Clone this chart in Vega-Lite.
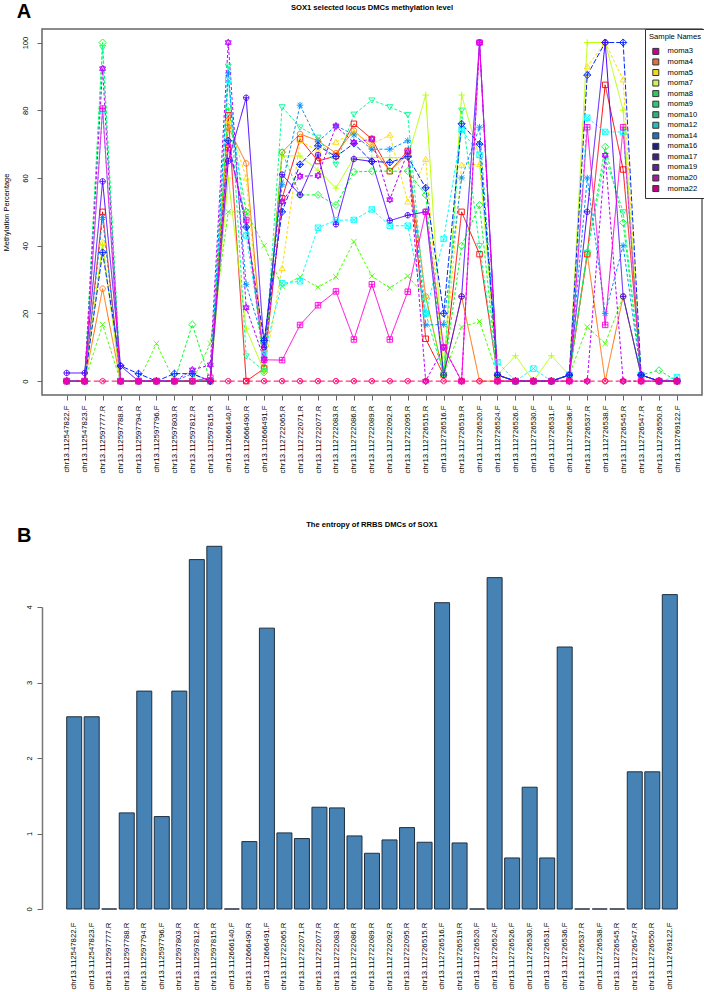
{"$schema":"https://vega.github.io/schema/vega-lite/v6.json","background":"white","padding":{"left":1,"top":0,"right":0,"bottom":0},"bounds":"flush","spacing":212,"config":{"font":"Liberation Sans","view":{"stroke":null}},"vconcat":[{"width":660,"height":366,"title":{"text":"SOX1 selected locus DMCs methylation level","fontSize":7.6,"fontWeight":"bold","color":"black","offset":-10.5,"anchor":"middle"},"view":{"stroke":"#666","strokeWidth":1.5},"data":{"values":[
{"site":"chr13.112547822.F","sample":"moma3","pct":0},{"site":"chr13.112547823.F","sample":"moma3","pct":0},{"site":"chr13.112597777.R","sample":"moma3","pct":50},{"site":"chr13.112597788.R","sample":"moma3","pct":0},{"site":"chr13.112597794.R","sample":"moma3","pct":0},{"site":"chr13.112597796.F","sample":"moma3","pct":0},{"site":"chr13.112597803.R","sample":"moma3","pct":0},{"site":"chr13.112597812.R","sample":"moma3","pct":0},{"site":"chr13.112597815.R","sample":"moma3","pct":0},{"site":"chr13.112666140.F","sample":"moma3","pct":78.5},{"site":"chr13.112666490.R","sample":"moma3","pct":0},{"site":"chr13.112666491.F","sample":"moma3","pct":3.7},{"site":"chr13.112722065.R","sample":"moma3","pct":54},{"site":"chr13.112722071.R","sample":"moma3","pct":71.5},{"site":"chr13.112722077.R","sample":"moma3","pct":65},{"site":"chr13.112722083.R","sample":"moma3","pct":66.5},{"site":"chr13.112722086.R","sample":"moma3","pct":76},{"site":"chr13.112722089.R","sample":"moma3","pct":71.5},{"site":"chr13.112722092.R","sample":"moma3","pct":62},{"site":"chr13.112722095.R","sample":"moma3","pct":68},{"site":"chr13.112726515.R","sample":"moma3","pct":12.5},{"site":"chr13.112726516.F","sample":"moma3","pct":1.8},{"site":"chr13.112726519.R","sample":"moma3","pct":50},{"site":"chr13.112726520.F","sample":"moma3","pct":37.5},{"site":"chr13.112726524.F","sample":"moma3","pct":1.8},{"site":"chr13.112726526.F","sample":"moma3","pct":0},{"site":"chr13.112726530.F","sample":"moma3","pct":0},{"site":"chr13.112726531.F","sample":"moma3","pct":0},{"site":"chr13.112726536.F","sample":"moma3","pct":1.8},{"site":"chr13.112726537.R","sample":"moma3","pct":37.5},{"site":"chr13.112726538.F","sample":"moma3","pct":87.5},{"site":"chr13.112726545.R","sample":"moma3","pct":62.5},{"site":"chr13.112726547.R","sample":"moma3","pct":1.8},{"site":"chr13.112726550.R","sample":"moma3","pct":0},{"site":"chr13.112769122.F","sample":"moma3","pct":0},
{"site":"chr13.112547822.F","sample":"moma4","pct":0},{"site":"chr13.112547823.F","sample":"moma4","pct":0},{"site":"chr13.112597777.R","sample":"moma4","pct":27.3},{"site":"chr13.112597788.R","sample":"moma4","pct":0},{"site":"chr13.112597794.R","sample":"moma4","pct":0},{"site":"chr13.112597796.F","sample":"moma4","pct":0},{"site":"chr13.112597803.R","sample":"moma4","pct":0},{"site":"chr13.112597812.R","sample":"moma4","pct":0},{"site":"chr13.112597815.R","sample":"moma4","pct":0},{"site":"chr13.112666140.F","sample":"moma4","pct":75},{"site":"chr13.112666490.R","sample":"moma4","pct":64.3},{"site":"chr13.112666491.F","sample":"moma4","pct":4.3},{"site":"chr13.112722065.R","sample":"moma4","pct":67.6},{"site":"chr13.112722071.R","sample":"moma4","pct":73},{"site":"chr13.112722077.R","sample":"moma4","pct":71},{"site":"chr13.112722083.R","sample":"moma4","pct":67.3},{"site":"chr13.112722086.R","sample":"moma4","pct":74},{"site":"chr13.112722089.R","sample":"moma4","pct":69},{"site":"chr13.112722092.R","sample":"moma4","pct":62},{"site":"chr13.112722095.R","sample":"moma4","pct":67},{"site":"chr13.112726515.R","sample":"moma4","pct":25},{"site":"chr13.112726516.F","sample":"moma4","pct":1.8},{"site":"chr13.112726519.R","sample":"moma4","pct":25},{"site":"chr13.112726520.F","sample":"moma4","pct":0},{"site":"chr13.112726524.F","sample":"moma4","pct":0},{"site":"chr13.112726526.F","sample":"moma4","pct":0},{"site":"chr13.112726530.F","sample":"moma4","pct":0},{"site":"chr13.112726531.F","sample":"moma4","pct":0},{"site":"chr13.112726536.F","sample":"moma4","pct":1.8},{"site":"chr13.112726537.R","sample":"moma4","pct":37.5},{"site":"chr13.112726538.F","sample":"moma4","pct":0},{"site":"chr13.112726545.R","sample":"moma4","pct":25},{"site":"chr13.112726547.R","sample":"moma4","pct":1.8},{"site":"chr13.112726550.R","sample":"moma4","pct":0},{"site":"chr13.112769122.F","sample":"moma4","pct":0},
{"site":"chr13.112547822.F","sample":"moma5","pct":0},{"site":"chr13.112547823.F","sample":"moma5","pct":0},{"site":"chr13.112597777.R","sample":"moma5","pct":41},{"site":"chr13.112597788.R","sample":"moma5","pct":0},{"site":"chr13.112597794.R","sample":"moma5","pct":0},{"site":"chr13.112597796.F","sample":"moma5","pct":0},{"site":"chr13.112597803.R","sample":"moma5","pct":0},{"site":"chr13.112597812.R","sample":"moma5","pct":0},{"site":"chr13.112597815.R","sample":"moma5","pct":0},{"site":"chr13.112666140.F","sample":"moma5","pct":77},{"site":"chr13.112666490.R","sample":"moma5","pct":60},{"site":"chr13.112666491.F","sample":"moma5","pct":3.3},{"site":"chr13.112722065.R","sample":"moma5","pct":33.3},{"site":"chr13.112722071.R","sample":"moma5","pct":71},{"site":"chr13.112722077.R","sample":"moma5","pct":68},{"site":"chr13.112722083.R","sample":"moma5","pct":70.6},{"site":"chr13.112722086.R","sample":"moma5","pct":73.5},{"site":"chr13.112722089.R","sample":"moma5","pct":70},{"site":"chr13.112722092.R","sample":"moma5","pct":72.7},{"site":"chr13.112722095.R","sample":"moma5","pct":53},{"site":"chr13.112726515.R","sample":"moma5","pct":65.5},{"site":"chr13.112726516.F","sample":"moma5","pct":1.8},{"site":"chr13.112726519.R","sample":"moma5","pct":63.8},{"site":"chr13.112726520.F","sample":"moma5","pct":64},{"site":"chr13.112726524.F","sample":"moma5","pct":1.8},{"site":"chr13.112726526.F","sample":"moma5","pct":0},{"site":"chr13.112726530.F","sample":"moma5","pct":0},{"site":"chr13.112726531.F","sample":"moma5","pct":0},{"site":"chr13.112726536.F","sample":"moma5","pct":1.8},{"site":"chr13.112726537.R","sample":"moma5","pct":92.9},{"site":"chr13.112726538.F","sample":"moma5","pct":100},{"site":"chr13.112726545.R","sample":"moma5","pct":89},{"site":"chr13.112726547.R","sample":"moma5","pct":1.8},{"site":"chr13.112726550.R","sample":"moma5","pct":0},{"site":"chr13.112769122.F","sample":"moma5","pct":0},
{"site":"chr13.112547822.F","sample":"moma7","pct":0},{"site":"chr13.112547823.F","sample":"moma7","pct":0},{"site":"chr13.112597777.R","sample":"moma7","pct":40},{"site":"chr13.112597788.R","sample":"moma7","pct":0},{"site":"chr13.112597794.R","sample":"moma7","pct":0},{"site":"chr13.112597796.F","sample":"moma7","pct":0},{"site":"chr13.112597803.R","sample":"moma7","pct":0},{"site":"chr13.112597812.R","sample":"moma7","pct":0},{"site":"chr13.112597815.R","sample":"moma7","pct":0},{"site":"chr13.112666140.F","sample":"moma7","pct":60},{"site":"chr13.112666490.R","sample":"moma7","pct":15.4},{"site":"chr13.112666491.F","sample":"moma7","pct":3},{"site":"chr13.112722065.R","sample":"moma7","pct":66.5},{"site":"chr13.112722071.R","sample":"moma7","pct":66.5},{"site":"chr13.112722077.R","sample":"moma7","pct":62.3},{"site":"chr13.112722083.R","sample":"moma7","pct":57},{"site":"chr13.112722086.R","sample":"moma7","pct":66},{"site":"chr13.112722089.R","sample":"moma7","pct":66},{"site":"chr13.112722092.R","sample":"moma7","pct":66},{"site":"chr13.112722095.R","sample":"moma7","pct":66},{"site":"chr13.112726515.R","sample":"moma7","pct":84.5},{"site":"chr13.112726516.F","sample":"moma7","pct":1.8},{"site":"chr13.112726519.R","sample":"moma7","pct":84.5},{"site":"chr13.112726520.F","sample":"moma7","pct":66},{"site":"chr13.112726524.F","sample":"moma7","pct":1.8},{"site":"chr13.112726526.F","sample":"moma7","pct":7.5},{"site":"chr13.112726530.F","sample":"moma7","pct":0},{"site":"chr13.112726531.F","sample":"moma7","pct":7.5},{"site":"chr13.112726536.F","sample":"moma7","pct":1.8},{"site":"chr13.112726537.R","sample":"moma7","pct":100},{"site":"chr13.112726538.F","sample":"moma7","pct":100},{"site":"chr13.112726545.R","sample":"moma7","pct":80},{"site":"chr13.112726547.R","sample":"moma7","pct":1.8},{"site":"chr13.112726550.R","sample":"moma7","pct":0},{"site":"chr13.112769122.F","sample":"moma7","pct":0},
{"site":"chr13.112547822.F","sample":"moma8","pct":0},{"site":"chr13.112547823.F","sample":"moma8","pct":0},{"site":"chr13.112597777.R","sample":"moma8","pct":16.7},{"site":"chr13.112597788.R","sample":"moma8","pct":0},{"site":"chr13.112597794.R","sample":"moma8","pct":0},{"site":"chr13.112597796.F","sample":"moma8","pct":11.1},{"site":"chr13.112597803.R","sample":"moma8","pct":0},{"site":"chr13.112597812.R","sample":"moma8","pct":0},{"site":"chr13.112597815.R","sample":"moma8","pct":11.1},{"site":"chr13.112666140.F","sample":"moma8","pct":50},{"site":"chr13.112666490.R","sample":"moma8","pct":50},{"site":"chr13.112666491.F","sample":"moma8","pct":40},{"site":"chr13.112722065.R","sample":"moma8","pct":28},{"site":"chr13.112722071.R","sample":"moma8","pct":30.8},{"site":"chr13.112722077.R","sample":"moma8","pct":27.7},{"site":"chr13.112722083.R","sample":"moma8","pct":30.8},{"site":"chr13.112722086.R","sample":"moma8","pct":41.2},{"site":"chr13.112722089.R","sample":"moma8","pct":31},{"site":"chr13.112722092.R","sample":"moma8","pct":27.5},{"site":"chr13.112722095.R","sample":"moma8","pct":31},{"site":"chr13.112726515.R","sample":"moma8","pct":25},{"site":"chr13.112726516.F","sample":"moma8","pct":1.8},{"site":"chr13.112726519.R","sample":"moma8","pct":16},{"site":"chr13.112726520.F","sample":"moma8","pct":17.6},{"site":"chr13.112726524.F","sample":"moma8","pct":1.8},{"site":"chr13.112726526.F","sample":"moma8","pct":0},{"site":"chr13.112726530.F","sample":"moma8","pct":0},{"site":"chr13.112726531.F","sample":"moma8","pct":0},{"site":"chr13.112726536.F","sample":"moma8","pct":1.8},{"site":"chr13.112726537.R","sample":"moma8","pct":16},{"site":"chr13.112726538.F","sample":"moma8","pct":11.1},{"site":"chr13.112726545.R","sample":"moma8","pct":25},{"site":"chr13.112726547.R","sample":"moma8","pct":1.8},{"site":"chr13.112726550.R","sample":"moma8","pct":0},{"site":"chr13.112769122.F","sample":"moma8","pct":0},
{"site":"chr13.112547822.F","sample":"moma9","pct":0},{"site":"chr13.112547823.F","sample":"moma9","pct":0},{"site":"chr13.112597777.R","sample":"moma9","pct":100},{"site":"chr13.112597788.R","sample":"moma9","pct":0},{"site":"chr13.112597794.R","sample":"moma9","pct":0},{"site":"chr13.112597796.F","sample":"moma9","pct":0},{"site":"chr13.112597803.R","sample":"moma9","pct":0},{"site":"chr13.112597812.R","sample":"moma9","pct":16.7},{"site":"chr13.112597815.R","sample":"moma9","pct":0},{"site":"chr13.112666140.F","sample":"moma9","pct":81},{"site":"chr13.112666490.R","sample":"moma9","pct":50},{"site":"chr13.112666491.F","sample":"moma9","pct":2.6},{"site":"chr13.112722065.R","sample":"moma9","pct":67.6},{"site":"chr13.112722071.R","sample":"moma9","pct":55},{"site":"chr13.112722077.R","sample":"moma9","pct":55},{"site":"chr13.112722083.R","sample":"moma9","pct":52},{"site":"chr13.112722086.R","sample":"moma9","pct":61.8},{"site":"chr13.112722089.R","sample":"moma9","pct":62},{"site":"chr13.112722092.R","sample":"moma9","pct":62},{"site":"chr13.112722095.R","sample":"moma9","pct":62},{"site":"chr13.112726515.R","sample":"moma9","pct":55},{"site":"chr13.112726516.F","sample":"moma9","pct":1.8},{"site":"chr13.112726519.R","sample":"moma9","pct":40},{"site":"chr13.112726520.F","sample":"moma9","pct":52},{"site":"chr13.112726524.F","sample":"moma9","pct":1.8},{"site":"chr13.112726526.F","sample":"moma9","pct":0},{"site":"chr13.112726530.F","sample":"moma9","pct":0},{"site":"chr13.112726531.F","sample":"moma9","pct":0},{"site":"chr13.112726536.F","sample":"moma9","pct":1.8},{"site":"chr13.112726537.R","sample":"moma9","pct":38},{"site":"chr13.112726538.F","sample":"moma9","pct":69.2},{"site":"chr13.112726545.R","sample":"moma9","pct":46.8},{"site":"chr13.112726547.R","sample":"moma9","pct":1.8},{"site":"chr13.112726550.R","sample":"moma9","pct":3.2},{"site":"chr13.112769122.F","sample":"moma9","pct":0},
{"site":"chr13.112547822.F","sample":"moma10","pct":0},{"site":"chr13.112547823.F","sample":"moma10","pct":0},{"site":"chr13.112597777.R","sample":"moma10","pct":98.5},{"site":"chr13.112597788.R","sample":"moma10","pct":0},{"site":"chr13.112597794.R","sample":"moma10","pct":0},{"site":"chr13.112597796.F","sample":"moma10","pct":0},{"site":"chr13.112597803.R","sample":"moma10","pct":0},{"site":"chr13.112597812.R","sample":"moma10","pct":0},{"site":"chr13.112597815.R","sample":"moma10","pct":0},{"site":"chr13.112666140.F","sample":"moma10","pct":93},{"site":"chr13.112666490.R","sample":"moma10","pct":7.4},{"site":"chr13.112666491.F","sample":"moma10","pct":3},{"site":"chr13.112722065.R","sample":"moma10","pct":81},{"site":"chr13.112722071.R","sample":"moma10","pct":75},{"site":"chr13.112722077.R","sample":"moma10","pct":72},{"site":"chr13.112722083.R","sample":"moma10","pct":64},{"site":"chr13.112722086.R","sample":"moma10","pct":78.8},{"site":"chr13.112722089.R","sample":"moma10","pct":83},{"site":"chr13.112722092.R","sample":"moma10","pct":81},{"site":"chr13.112722095.R","sample":"moma10","pct":78.7},{"site":"chr13.112726515.R","sample":"moma10","pct":20},{"site":"chr13.112726516.F","sample":"moma10","pct":1.8},{"site":"chr13.112726519.R","sample":"moma10","pct":80},{"site":"chr13.112726520.F","sample":"moma10","pct":40},{"site":"chr13.112726524.F","sample":"moma10","pct":1.8},{"site":"chr13.112726526.F","sample":"moma10","pct":0},{"site":"chr13.112726530.F","sample":"moma10","pct":0},{"site":"chr13.112726531.F","sample":"moma10","pct":0},{"site":"chr13.112726536.F","sample":"moma10","pct":1.8},{"site":"chr13.112726537.R","sample":"moma10","pct":38},{"site":"chr13.112726538.F","sample":"moma10","pct":66},{"site":"chr13.112726545.R","sample":"moma10","pct":50},{"site":"chr13.112726547.R","sample":"moma10","pct":1.8},{"site":"chr13.112726550.R","sample":"moma10","pct":0},{"site":"chr13.112769122.F","sample":"moma10","pct":0},
{"site":"chr13.112547822.F","sample":"moma12","pct":0},{"site":"chr13.112547823.F","sample":"moma12","pct":0},{"site":"chr13.112597777.R","sample":"moma12","pct":80},{"site":"chr13.112597788.R","sample":"moma12","pct":0},{"site":"chr13.112597794.R","sample":"moma12","pct":0},{"site":"chr13.112597796.F","sample":"moma12","pct":0},{"site":"chr13.112597803.R","sample":"moma12","pct":0},{"site":"chr13.112597812.R","sample":"moma12","pct":0},{"site":"chr13.112597815.R","sample":"moma12","pct":0},{"site":"chr13.112666140.F","sample":"moma12","pct":89},{"site":"chr13.112666490.R","sample":"moma12","pct":43},{"site":"chr13.112666491.F","sample":"moma12","pct":8},{"site":"chr13.112722065.R","sample":"moma12","pct":28.9},{"site":"chr13.112722071.R","sample":"moma12","pct":29.5},{"site":"chr13.112722077.R","sample":"moma12","pct":45.3},{"site":"chr13.112722083.R","sample":"moma12","pct":47.5},{"site":"chr13.112722086.R","sample":"moma12","pct":47.6},{"site":"chr13.112722089.R","sample":"moma12","pct":50.7},{"site":"chr13.112722092.R","sample":"moma12","pct":45.9},{"site":"chr13.112722095.R","sample":"moma12","pct":45.9},{"site":"chr13.112726515.R","sample":"moma12","pct":20},{"site":"chr13.112726516.F","sample":"moma12","pct":42},{"site":"chr13.112726519.R","sample":"moma12","pct":74.3},{"site":"chr13.112726520.F","sample":"moma12","pct":66.8},{"site":"chr13.112726524.F","sample":"moma12","pct":5.6},{"site":"chr13.112726526.F","sample":"moma12","pct":0},{"site":"chr13.112726530.F","sample":"moma12","pct":3.7},{"site":"chr13.112726531.F","sample":"moma12","pct":0},{"site":"chr13.112726536.F","sample":"moma12","pct":1.8},{"site":"chr13.112726537.R","sample":"moma12","pct":77.8},{"site":"chr13.112726538.F","sample":"moma12","pct":73.6},{"site":"chr13.112726545.R","sample":"moma12","pct":73.6},{"site":"chr13.112726547.R","sample":"moma12","pct":1.8},{"site":"chr13.112726550.R","sample":"moma12","pct":0},{"site":"chr13.112769122.F","sample":"moma12","pct":1.2},
{"site":"chr13.112547822.F","sample":"moma14","pct":0},{"site":"chr13.112547823.F","sample":"moma14","pct":0},{"site":"chr13.112597777.R","sample":"moma14","pct":48.3},{"site":"chr13.112597788.R","sample":"moma14","pct":0},{"site":"chr13.112597794.R","sample":"moma14","pct":0},{"site":"chr13.112597796.F","sample":"moma14","pct":0},{"site":"chr13.112597803.R","sample":"moma14","pct":0},{"site":"chr13.112597812.R","sample":"moma14","pct":2.2},{"site":"chr13.112597815.R","sample":"moma14","pct":0},{"site":"chr13.112666140.F","sample":"moma14","pct":91},{"site":"chr13.112666490.R","sample":"moma14","pct":28.6},{"site":"chr13.112666491.F","sample":"moma14","pct":11},{"site":"chr13.112722065.R","sample":"moma14","pct":58},{"site":"chr13.112722071.R","sample":"moma14","pct":81.5},{"site":"chr13.112722077.R","sample":"moma14","pct":70.7},{"site":"chr13.112722083.R","sample":"moma14","pct":75.5},{"site":"chr13.112722086.R","sample":"moma14","pct":72.7},{"site":"chr13.112722089.R","sample":"moma14","pct":68.5},{"site":"chr13.112722092.R","sample":"moma14","pct":68.5},{"site":"chr13.112722095.R","sample":"moma14","pct":71},{"site":"chr13.112726515.R","sample":"moma14","pct":16.6},{"site":"chr13.112726516.F","sample":"moma14","pct":16.7},{"site":"chr13.112726519.R","sample":"moma14","pct":60},{"site":"chr13.112726520.F","sample":"moma14","pct":75},{"site":"chr13.112726524.F","sample":"moma14","pct":1.8},{"site":"chr13.112726526.F","sample":"moma14","pct":0},{"site":"chr13.112726530.F","sample":"moma14","pct":0},{"site":"chr13.112726531.F","sample":"moma14","pct":0},{"site":"chr13.112726536.F","sample":"moma14","pct":1.8},{"site":"chr13.112726537.R","sample":"moma14","pct":60},{"site":"chr13.112726538.F","sample":"moma14","pct":20},{"site":"chr13.112726545.R","sample":"moma14","pct":40},{"site":"chr13.112726547.R","sample":"moma14","pct":1.8},{"site":"chr13.112726550.R","sample":"moma14","pct":0},{"site":"chr13.112769122.F","sample":"moma14","pct":0},
{"site":"chr13.112547822.F","sample":"moma16","pct":0},{"site":"chr13.112547823.F","sample":"moma16","pct":0},{"site":"chr13.112597777.R","sample":"moma16","pct":38},{"site":"chr13.112597788.R","sample":"moma16","pct":4.5},{"site":"chr13.112597794.R","sample":"moma16","pct":2.2},{"site":"chr13.112597796.F","sample":"moma16","pct":0},{"site":"chr13.112597803.R","sample":"moma16","pct":2.2},{"site":"chr13.112597812.R","sample":"moma16","pct":2.2},{"site":"chr13.112597815.R","sample":"moma16","pct":0},{"site":"chr13.112666140.F","sample":"moma16","pct":71},{"site":"chr13.112666490.R","sample":"moma16","pct":45.5},{"site":"chr13.112666491.F","sample":"moma16","pct":12},{"site":"chr13.112722065.R","sample":"moma16","pct":50},{"site":"chr13.112722071.R","sample":"moma16","pct":64},{"site":"chr13.112722077.R","sample":"moma16","pct":69.5},{"site":"chr13.112722083.R","sample":"moma16","pct":66.3},{"site":"chr13.112722086.R","sample":"moma16","pct":70.2},{"site":"chr13.112722089.R","sample":"moma16","pct":64.9},{"site":"chr13.112722092.R","sample":"moma16","pct":64.6},{"site":"chr13.112722095.R","sample":"moma16","pct":66.3},{"site":"chr13.112726515.R","sample":"moma16","pct":57.1},{"site":"chr13.112726516.F","sample":"moma16","pct":20},{"site":"chr13.112726519.R","sample":"moma16","pct":76},{"site":"chr13.112726520.F","sample":"moma16","pct":70},{"site":"chr13.112726524.F","sample":"moma16","pct":1.8},{"site":"chr13.112726526.F","sample":"moma16","pct":0},{"site":"chr13.112726530.F","sample":"moma16","pct":0},{"site":"chr13.112726531.F","sample":"moma16","pct":0},{"site":"chr13.112726536.F","sample":"moma16","pct":1.8},{"site":"chr13.112726537.R","sample":"moma16","pct":90.4},{"site":"chr13.112726538.F","sample":"moma16","pct":100},{"site":"chr13.112726545.R","sample":"moma16","pct":100},{"site":"chr13.112726547.R","sample":"moma16","pct":1.8},{"site":"chr13.112726550.R","sample":"moma16","pct":0},{"site":"chr13.112769122.F","sample":"moma16","pct":0},
{"site":"chr13.112547822.F","sample":"moma17","pct":2.4},{"site":"chr13.112547823.F","sample":"moma17","pct":2.4},{"site":"chr13.112597777.R","sample":"moma17","pct":59},{"site":"chr13.112597788.R","sample":"moma17","pct":4.5},{"site":"chr13.112597794.R","sample":"moma17","pct":0},{"site":"chr13.112597796.F","sample":"moma17","pct":0},{"site":"chr13.112597803.R","sample":"moma17","pct":0},{"site":"chr13.112597812.R","sample":"moma17","pct":0},{"site":"chr13.112597815.R","sample":"moma17","pct":0},{"site":"chr13.112666140.F","sample":"moma17","pct":65},{"site":"chr13.112666490.R","sample":"moma17","pct":83.7},{"site":"chr13.112666491.F","sample":"moma17","pct":10},{"site":"chr13.112722065.R","sample":"moma17","pct":61},{"site":"chr13.112722071.R","sample":"moma17","pct":55},{"site":"chr13.112722077.R","sample":"moma17","pct":66.8},{"site":"chr13.112722083.R","sample":"moma17","pct":46.3},{"site":"chr13.112722086.R","sample":"moma17","pct":65.6},{"site":"chr13.112722089.R","sample":"moma17","pct":64.9},{"site":"chr13.112722092.R","sample":"moma17","pct":47.4},{"site":"chr13.112722095.R","sample":"moma17","pct":49},{"site":"chr13.112726515.R","sample":"moma17","pct":50},{"site":"chr13.112726516.F","sample":"moma17","pct":1.8},{"site":"chr13.112726519.R","sample":"moma17","pct":25},{"site":"chr13.112726520.F","sample":"moma17","pct":100},{"site":"chr13.112726524.F","sample":"moma17","pct":1.8},{"site":"chr13.112726526.F","sample":"moma17","pct":0},{"site":"chr13.112726530.F","sample":"moma17","pct":0},{"site":"chr13.112726531.F","sample":"moma17","pct":0},{"site":"chr13.112726536.F","sample":"moma17","pct":1.8},{"site":"chr13.112726537.R","sample":"moma17","pct":50},{"site":"chr13.112726538.F","sample":"moma17","pct":100},{"site":"chr13.112726545.R","sample":"moma17","pct":25},{"site":"chr13.112726547.R","sample":"moma17","pct":1.8},{"site":"chr13.112726550.R","sample":"moma17","pct":0},{"site":"chr13.112769122.F","sample":"moma17","pct":0},
{"site":"chr13.112547822.F","sample":"moma19","pct":0},{"site":"chr13.112547823.F","sample":"moma19","pct":0},{"site":"chr13.112597777.R","sample":"moma19","pct":92.3},{"site":"chr13.112597788.R","sample":"moma19","pct":0},{"site":"chr13.112597794.R","sample":"moma19","pct":0},{"site":"chr13.112597796.F","sample":"moma19","pct":0},{"site":"chr13.112597803.R","sample":"moma19","pct":0},{"site":"chr13.112597812.R","sample":"moma19","pct":3.3},{"site":"chr13.112597815.R","sample":"moma19","pct":4.8},{"site":"chr13.112666140.F","sample":"moma19","pct":100},{"site":"chr13.112666490.R","sample":"moma19","pct":21.7},{"site":"chr13.112666491.F","sample":"moma19","pct":6.5},{"site":"chr13.112722065.R","sample":"moma19","pct":53},{"site":"chr13.112722071.R","sample":"moma19","pct":60.5},{"site":"chr13.112722077.R","sample":"moma19","pct":60.7},{"site":"chr13.112722083.R","sample":"moma19","pct":75.3},{"site":"chr13.112722086.R","sample":"moma19","pct":70.5},{"site":"chr13.112722089.R","sample":"moma19","pct":71.5},{"site":"chr13.112722092.R","sample":"moma19","pct":53.6},{"site":"chr13.112722095.R","sample":"moma19","pct":67.7},{"site":"chr13.112726515.R","sample":"moma19","pct":0},{"site":"chr13.112726516.F","sample":"moma19","pct":10},{"site":"chr13.112726519.R","sample":"moma19","pct":0},{"site":"chr13.112726520.F","sample":"moma19","pct":100},{"site":"chr13.112726524.F","sample":"moma19","pct":0},{"site":"chr13.112726526.F","sample":"moma19","pct":0},{"site":"chr13.112726530.F","sample":"moma19","pct":0},{"site":"chr13.112726531.F","sample":"moma19","pct":0},{"site":"chr13.112726536.F","sample":"moma19","pct":0},{"site":"chr13.112726537.R","sample":"moma19","pct":0},{"site":"chr13.112726538.F","sample":"moma19","pct":66.7},{"site":"chr13.112726545.R","sample":"moma19","pct":0},{"site":"chr13.112726547.R","sample":"moma19","pct":0},{"site":"chr13.112726550.R","sample":"moma19","pct":0},{"site":"chr13.112769122.F","sample":"moma19","pct":0},
{"site":"chr13.112547822.F","sample":"moma20","pct":0},{"site":"chr13.112547823.F","sample":"moma20","pct":0},{"site":"chr13.112597777.R","sample":"moma20","pct":80.5},{"site":"chr13.112597788.R","sample":"moma20","pct":0},{"site":"chr13.112597794.R","sample":"moma20","pct":0},{"site":"chr13.112597796.F","sample":"moma20","pct":0},{"site":"chr13.112597803.R","sample":"moma20","pct":0},{"site":"chr13.112597812.R","sample":"moma20","pct":0},{"site":"chr13.112597815.R","sample":"moma20","pct":1},{"site":"chr13.112666140.F","sample":"moma20","pct":69},{"site":"chr13.112666490.R","sample":"moma20","pct":47.6},{"site":"chr13.112666491.F","sample":"moma20","pct":6.3},{"site":"chr13.112722065.R","sample":"moma20","pct":6.2},{"site":"chr13.112722071.R","sample":"moma20","pct":16.6},{"site":"chr13.112722077.R","sample":"moma20","pct":22.4},{"site":"chr13.112722083.R","sample":"moma20","pct":26.5},{"site":"chr13.112722086.R","sample":"moma20","pct":12.3},{"site":"chr13.112722089.R","sample":"moma20","pct":28.6},{"site":"chr13.112722092.R","sample":"moma20","pct":12.3},{"site":"chr13.112722095.R","sample":"moma20","pct":26.4},{"site":"chr13.112726515.R","sample":"moma20","pct":50},{"site":"chr13.112726516.F","sample":"moma20","pct":10},{"site":"chr13.112726519.R","sample":"moma20","pct":0},{"site":"chr13.112726520.F","sample":"moma20","pct":100},{"site":"chr13.112726524.F","sample":"moma20","pct":0},{"site":"chr13.112726526.F","sample":"moma20","pct":0},{"site":"chr13.112726530.F","sample":"moma20","pct":0},{"site":"chr13.112726531.F","sample":"moma20","pct":0},{"site":"chr13.112726536.F","sample":"moma20","pct":0},{"site":"chr13.112726537.R","sample":"moma20","pct":75},{"site":"chr13.112726538.F","sample":"moma20","pct":16.6},{"site":"chr13.112726545.R","sample":"moma20","pct":75},{"site":"chr13.112726547.R","sample":"moma20","pct":0},{"site":"chr13.112726550.R","sample":"moma20","pct":0},{"site":"chr13.112769122.F","sample":"moma20","pct":0},
{"site":"chr13.112547822.F","sample":"moma22","pct":0},{"site":"chr13.112547823.F","sample":"moma22","pct":0},{"site":"chr13.112597777.R","sample":"moma22","pct":0},{"site":"chr13.112597788.R","sample":"moma22","pct":0},{"site":"chr13.112597794.R","sample":"moma22","pct":0},{"site":"chr13.112597796.F","sample":"moma22","pct":0},{"site":"chr13.112597803.R","sample":"moma22","pct":0},{"site":"chr13.112597812.R","sample":"moma22","pct":0},{"site":"chr13.112597815.R","sample":"moma22","pct":0},{"site":"chr13.112666140.F","sample":"moma22","pct":0},{"site":"chr13.112666490.R","sample":"moma22","pct":0},{"site":"chr13.112666491.F","sample":"moma22","pct":0},{"site":"chr13.112722065.R","sample":"moma22","pct":0},{"site":"chr13.112722071.R","sample":"moma22","pct":0},{"site":"chr13.112722077.R","sample":"moma22","pct":0},{"site":"chr13.112722083.R","sample":"moma22","pct":0},{"site":"chr13.112722086.R","sample":"moma22","pct":0},{"site":"chr13.112722089.R","sample":"moma22","pct":0},{"site":"chr13.112722092.R","sample":"moma22","pct":0},{"site":"chr13.112722095.R","sample":"moma22","pct":0},{"site":"chr13.112726515.R","sample":"moma22","pct":0},{"site":"chr13.112726516.F","sample":"moma22","pct":0},{"site":"chr13.112726519.R","sample":"moma22","pct":0},{"site":"chr13.112726520.F","sample":"moma22","pct":0},{"site":"chr13.112726524.F","sample":"moma22","pct":0},{"site":"chr13.112726526.F","sample":"moma22","pct":0},{"site":"chr13.112726530.F","sample":"moma22","pct":0},{"site":"chr13.112726531.F","sample":"moma22","pct":0},{"site":"chr13.112726536.F","sample":"moma22","pct":0},{"site":"chr13.112726537.R","sample":"moma22","pct":0},{"site":"chr13.112726538.F","sample":"moma22","pct":0},{"site":"chr13.112726545.R","sample":"moma22","pct":0},{"site":"chr13.112726547.R","sample":"moma22","pct":0},{"site":"chr13.112726550.R","sample":"moma22","pct":0},{"site":"chr13.112769122.F","sample":"moma22","pct":0}
]},
"encoding":{"x":{"field":"site","type":"ordinal","sort":null,"scale":{"type":"point","padding":0,"range":[24.7,635]},"axis":{"title":null,"labelAngle":-90,"labelFontSize":7.8,"labelColor":"black","tickColor":"#666","tickSize":5,"labelPadding":5,"domain":false}},"y":{"field":"pct","type":"quantitative","scale":{"domain":[-4.1,104],"nice":false,"zero":false},"axis":{"title":"Methylation Percentage","titleFontSize":7.4,"titleFontWeight":"normal","titleColor":"black","titlePadding":11,"values":[0,20,40,60,80,100],"grid":false,"domain":false,"labelAngle":-90,"labelAlign":"center","labelBaseline":"middle","labelFontSize":7.6,"labelColor":"black","labelPadding":12,"tickColor":"#666","tickSize":5}},"stroke":{"field":"sample","type":"nominal","legend":null,"scale":{"domain":["moma3","moma4","moma5","moma7","moma8","moma9","moma10","moma12","moma14","moma16","moma17","moma19","moma20","moma22"],"range":["#FF0000","#FF6D00","#FFDB00","#B6FF00","#49FF00","#00FF24","#00FF92","#00FFFF","#0092FF","#0024FF","#4900FF","#B600FF","#FF00DB","#FF006D"]}}},
"layer":[
{"mark":{"type":"line","strokeWidth":1},"encoding":{"strokeDash":{"field":"sample","type":"nominal","legend":null,"scale":{"domain":["moma3","moma4","moma5","moma7","moma8","moma9","moma10","moma12","moma14","moma16","moma17","moma19","moma20","moma22"],"range":[[1,0],[1,0],[3,2],[1,0],[3,2],[3,2],[3,2],[3,2],[3,2],[5,2],[1,0],[3,2],[1,0],[6,3]]}}}},
{"mark":{"type":"point","filled":false,"size":30,"strokeWidth":0.9,"opacity":1},"encoding":{"shape":{"field":"sample","type":"nominal","legend":null,"scale":{"domain":["moma3","moma4","moma5","moma7","moma8","moma9","moma10","moma12","moma14","moma16","moma17","moma19","moma20","moma22"],"range":["M-1,-1L1,-1L1,1L-1,1Z","M-1,0A1,1 0 1,1 1,0A1,1 0 1,1 -1,0Z","M0,-1.1L1.1,0.8L-1.1,0.8Z","M-1.2,0L1.2,0M0,-1.2L0,1.2","M-1,-1L1,1M-1,1L1,-1","M0,-1.3L1.3,0L0,1.3L-1.3,0Z","M0,1.1L1.1,-0.8L-1.1,-0.8Z","M-1,-1L1,-1L1,1L-1,1ZM-1,-1L1,1M-1,1L1,-1","M-1.2,0L1.2,0M0,-1.2L0,1.2M-0.9,-0.9L0.9,0.9M-0.9,0.9L0.9,-0.9","M0,-1.3L1.3,0L0,1.3L-1.3,0ZM-1.3,0L1.3,0M0,-1.3L0,1.3","M-1,0A1,1 0 1,1 1,0A1,1 0 1,1 -1,0ZM-1,0L1,0M0,-1L0,1","M0,-1.3L1.1,0.65L-1.1,0.65ZM0,1.3L1.1,-0.65L-1.1,-0.65Z","M-1,-1L1,-1L1,1L-1,1ZM-1,0L1,0M0,-1L0,1","M-1,0A1,1 0 1,1 1,0A1,1 0 1,1 -1,0ZM-0.7,-0.7L0.7,0.7M-0.7,0.7L0.7,-0.7"]}}}},
{"mark":{"type":"point","filled":true,"opacity":0},"encoding":{"stroke":{"value":null},"fill":{"field":"sample","type":"nominal","sort":null,"scale":{"range":["#C800A0","#E07040","#F0D820","#D0F060","#30C860","#30C870","#30B080","#20C0C0","#2070C0","#202080","#402080","#6020A0","#A020A0","#C00080"]},"legend":{"title":"Sample Names","orient":"none","legendX":603,"legendY":0,"fillColor":"white","strokeColor":"#333","padding":4,"titleFontSize":7.6,"titleFontWeight":"normal","titleColor":"black","titleAnchor":"middle","titlePadding":7,"labelFontSize":7.6,"labelColor":"black","rowPadding":-0.45,"symbolType":"square","symbolSize":36,"symbolOpacity":1,"symbolStrokeColor":"#333","symbolStrokeWidth":1,"labelOffset":8}}}},
{"data":{"values":[{"site":"chr13.112547822.F","level":109.16,"panel":"A"}]},"mark":{"type":"text","fontSize":20,"fontWeight":"bold","dx":-42.7,"baseline":"middle","align":"center","color":"black"},"encoding":{"x":{"field":"site","type":"ordinal","sort":null},"y":{"field":"level","type":"quantitative"},"text":{"field":"panel"},"stroke":{"value":null}}}
]},
{"width":660,"height":302,"title":{"text":"The entropy of RRBS DMCs of SOX1","fontSize":7.6,"fontWeight":"bold","color":"black","offset":-3,"anchor":"middle"},"data":{"values":[
{"site":"chr13.112547822.F","entropy":2.546},{"site":"chr13.112547823.F","entropy":2.546},{"site":"chr13.112597777.R","entropy":0},{"site":"chr13.112597788.R","entropy":1.273},{"site":"chr13.112597794.R","entropy":2.886},{"site":"chr13.112597796.F","entropy":1.224},{"site":"chr13.112597803.R","entropy":2.886},{"site":"chr13.112597812.R","entropy":4.628},{"site":"chr13.112597815.R","entropy":4.804},{"site":"chr13.112666140.F","entropy":0},{"site":"chr13.112666490.R","entropy":0.893},{"site":"chr13.112666491.F","entropy":3.72},{"site":"chr13.112722065.R","entropy":1.008},{"site":"chr13.112722071.R","entropy":0.933},{"site":"chr13.112722077.R","entropy":1.348},{"site":"chr13.112722083.R","entropy":1.339},{"site":"chr13.112722086.R","entropy":0.968},{"site":"chr13.112722089.R","entropy":0.738},{"site":"chr13.112722092.R","entropy":0.915},{"site":"chr13.112722095.R","entropy":1.078},{"site":"chr13.112726515.R","entropy":0.884},{"site":"chr13.112726516.F","entropy":4.057},{"site":"chr13.112726519.R","entropy":0.875},{"site":"chr13.112726520.F","entropy":0},{"site":"chr13.112726524.F","entropy":4.389},{"site":"chr13.112726526.F","entropy":0.676},{"site":"chr13.112726530.F","entropy":1.613},{"site":"chr13.112726531.F","entropy":0.676},{"site":"chr13.112726536.F","entropy":3.47},{"site":"chr13.112726537.R","entropy":0},{"site":"chr13.112726538.F","entropy":0},{"site":"chr13.112726545.R","entropy":0},{"site":"chr13.112726547.R","entropy":1.817},{"site":"chr13.112726550.R","entropy":1.817},{"site":"chr13.112769122.F","entropy":4.164}
]},
"encoding":{"x":{"field":"site","type":"ordinal","sort":null,"scale":{"type":"band","paddingInner":0.144,"paddingOuter":0,"range":[24.7,635.3]},"axis":{"title":null,"labelAngle":-90,"labelFontSize":7.8,"labelColor":"black","ticks":false,"domain":false,"labelPadding":13}},"y":{"field":"entropy","type":"quantitative","scale":{"domain":[0,4],"nice":false},"axis":{"title":null,"values":[0,1,2,3,4],"grid":false,"domain":true,"domainColor":"#777","domainWidth":1.5,"labelAngle":-90,"labelAlign":"center","labelBaseline":"middle","labelFontSize":7.6,"labelColor":"black","labelPadding":8,"tickColor":"#666","tickSize":5}}},
"layer":[
{"mark":{"type":"bar","fill":"#4682B4","stroke":"#1f2f3f","strokeWidth":1}},
{"data":{"values":[{"site":"chr13.112547822.F","level":4.94,"panel":"B"}]},"mark":{"type":"text","fontSize":20,"fontWeight":"bold","color":"black","dx":-50,"baseline":"middle","align":"center"},"encoding":{"x":{"field":"site","type":"ordinal","sort":null},"y":{"field":"level","type":"quantitative"},"text":{"field":"panel"}}}
]}
]}
